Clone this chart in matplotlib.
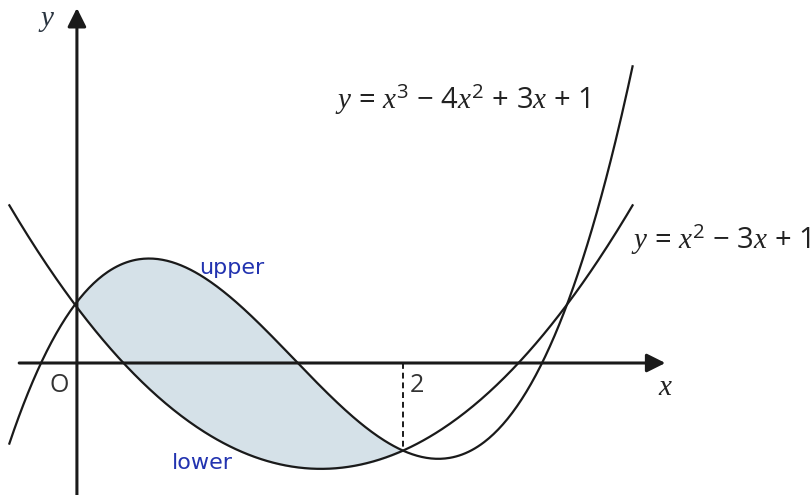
import matplotlib
matplotlib.use("Agg")
import matplotlib.pyplot as plt
import numpy as np

# polynomial coefficients, highest power first
cubic_coeffs = [1, -4, 3, 1]      # y = x^3 - 4x^2 + 3x + 1
quad_coeffs = [1, -3, 1]          # y = x^2 - 3x + 1
x_range = [-0.4, 3.4]             # drawn extent of both curves
shade_range = [0, 2]              # shaded region between the curves
x_tick_val = 2

# the original is a hand sketch: its x-axis is drawn a little above y = 0
axis_y = 0.2

plt.rcParams['mathtext.fontset'] = 'custom'
plt.rcParams['mathtext.rm'] = 'Open Sans:medium'
plt.rcParams['mathtext.it'] = 'Liberation Serif:italic'

px = 73.0  # pixels per y unit
fig = plt.figure(figsize=(8.12, 4.95), dpi=100)
ax = fig.add_axes([0, 0, 1, 1])
ax.set_xlim(-0.457, 4.494)
ax.set_ylim(axis_y - 132 / px, axis_y + 363 / px)
ax.axis('off')

x = np.linspace(x_range[0], x_range[1], 400)
yc = np.polyval(cubic_coeffs, x)
yq = np.polyval(quad_coeffs, x)

xs = np.linspace(shade_range[0], shade_range[1], 200)
ax.fill_between(xs, np.polyval(cubic_coeffs, xs), np.polyval(quad_coeffs, xs),
                color='#d5e1e8', zorder=1)

ax.plot(x, yc, color='#1a1a1a', lw=1.6, zorder=3)
ax.plot(x, yq, color='#1a1a1a', lw=1.6, zorder=3)

# axes arrows
arrow = dict(arrowstyle='-|>', color='#1a1a1a', lw=2.2, mutation_scale=28,
             shrinkA=0, shrinkB=0)
ax.annotate('', xy=(3.6, axis_y), xytext=(-0.34, axis_y), arrowprops=arrow, zorder=4)
ax.annotate('', xy=(0.012, axis_y + 355 / px), xytext=(0.012, -1.8),
            arrowprops=arrow, zorder=4)

# dashed line at x = 2
y2 = np.polyval(cubic_coeffs, x_tick_val)
ax.plot([x_tick_val, x_tick_val], [axis_y, y2], color='#1a1a1a', lw=1.4,
        linestyle=(0, (3, 2)), zorder=2)

lab_y = axis_y - 10 / px
ax.text(x_tick_val + 0.04, lab_y, str(x_tick_val), fontsize=18, family='Open Sans',
        color='#333', va='top', ha='left')
ax.text(-0.04, lab_y, 'O', fontsize=18, family='Open Sans', color='#333',
        va='top', ha='right')
ax.text(3.6, lab_y, '$x$', fontsize=21, color='#222', va='top', ha='center')
ax.text(-0.17, axis_y + 343 / px, '$y$', fontsize=21, color='#2a3440',
        va='center', ha='center')

ax.text(1.585, axis_y + 263 / px, r'$y\,=\,x^3\,-\,4x^2\,+\,3x\,+\,1$', fontsize=21,
        color='#222', va='center', ha='left')
ax.text(3.39, axis_y + 123 / px, r'$y\,=\,x^2\,-\,3x\,+\,1$', fontsize=21,
        color='#222', va='center', ha='left')

# handwritten annotations
ax.text(0.76, axis_y + 95 / px, 'upper', fontsize=16, color='#2233b0',
        va='center', ha='left')
ax.text(0.59, axis_y - 100 / px, 'lower', fontsize=16, color='#2233b0',
        va='center', ha='left')

fig.savefig('out.png', dpi=100)
